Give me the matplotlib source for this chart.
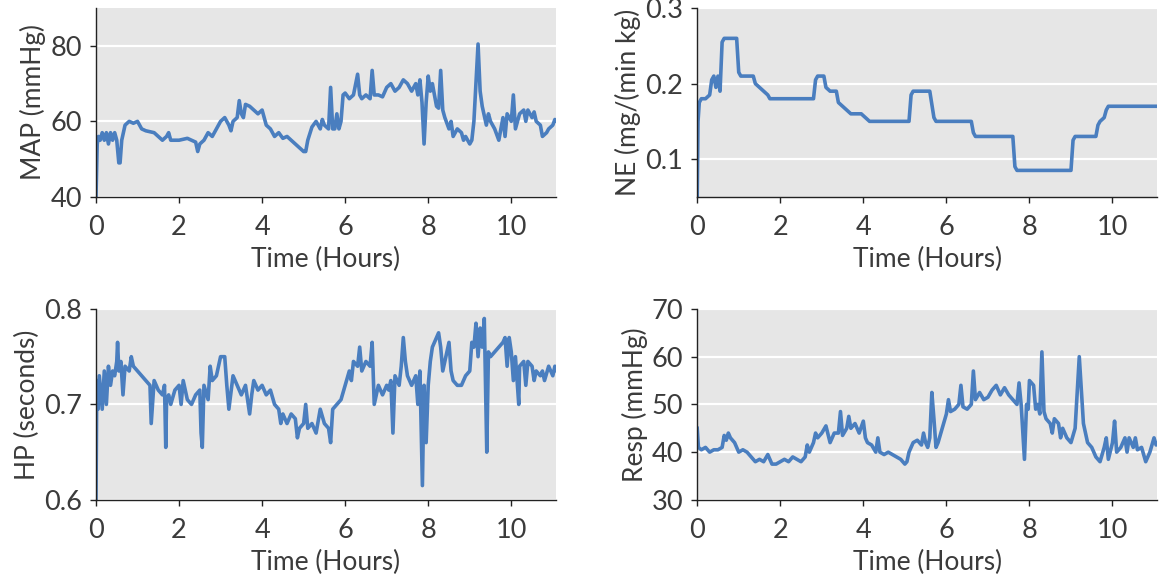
import matplotlib
matplotlib.use("Agg")
import matplotlib.pyplot as plt

# MAP (mmHg) vs time (hours)
map_t = [0.0, 0.03, 0.06, 0.1, 0.15, 0.2, 0.25, 0.3, 0.35, 0.4, 0.45, 0.5, 0.55, 0.58, 0.62, 0.7, 0.8,
         0.9, 1.0, 1.1, 1.2, 1.4, 1.5, 1.6, 1.7, 1.75, 1.8, 2.0, 2.2, 2.3, 2.4, 2.45, 2.5, 2.6, 2.7,
         2.8, 2.9, 3.0, 3.1, 3.2, 3.25, 3.3, 3.4, 3.45, 3.5, 3.55, 3.6, 3.7, 3.8, 3.9, 4.0, 4.05, 4.1,
         4.2, 4.3, 4.4, 4.5, 4.6, 4.7, 4.8, 4.9, 5.0, 5.05, 5.1, 5.2, 5.3, 5.4, 5.45, 5.5, 5.6, 5.65,
         5.7, 5.75, 5.8, 5.85, 5.9, 5.95, 6.0, 6.1, 6.2, 6.3, 6.35, 6.4, 6.5, 6.6, 6.65, 6.7, 6.8,
         6.9, 7.0, 7.1, 7.2, 7.3, 7.4, 7.5, 7.6, 7.7, 7.75, 7.8, 7.85, 7.9, 7.95, 8.0, 8.05, 8.1,
         8.2, 8.25, 8.3, 8.35, 8.4, 8.5, 8.55, 8.6, 8.7, 8.8, 8.85, 8.9, 9.0, 9.05, 9.1, 9.2, 9.25,
         9.3, 9.4, 9.45, 9.5, 9.6, 9.7, 9.75, 9.8, 9.85, 9.9, 10.0, 10.05, 10.1, 10.2, 10.3, 10.35,
         10.4, 10.5, 10.55, 10.6, 10.7, 10.75, 10.85, 10.9, 11.0, 11.05, 11.1]
map_v = [40, 54, 56, 55, 57, 55, 57, 54, 57, 55, 57, 55, 49, 49, 55, 59, 60,
         59.5, 60, 58, 57.5, 57, 56, 55, 56, 57, 55, 55, 55.5, 55, 54.5, 52, 54, 55, 57,
         56, 58, 60, 61, 59, 57.5, 60, 61, 65.5, 62, 61, 64.5, 64, 63, 62, 63, 61, 59,
         58, 56, 57, 55.5, 56, 55, 54, 53, 52, 52, 55, 58.5, 60, 58, 60.5, 59, 58, 69,
         58, 58, 62, 58, 60, 67, 67.5, 66, 67, 72.5, 67, 66, 67, 66, 73.5, 67, 67,
         66.5, 69, 70, 68, 69, 71, 70, 68, 70, 67, 71, 65, 54, 65, 72, 68, 70,
         64, 63.5, 73.5, 63, 61, 58, 60, 56, 58, 57, 55, 56, 54, 55, 60, 80.5, 68,
         64, 59, 62, 60, 58, 55, 58, 61, 56, 62, 60, 67, 58, 62, 63, 60,
         63, 61, 62.5, 60, 59, 56, 57, 58, 59, 60.5, 60]

# NE dose (mg/(min kg))
ne_t = [0.0, 0.02, 0.05, 0.1, 0.2, 0.3, 0.35, 0.4, 0.45, 0.5, 0.55, 0.6, 0.65, 0.95, 1.0, 1.05,
        1.35, 1.4, 1.5, 1.6, 1.7, 1.75, 2.8, 2.85, 2.9, 3.05, 3.1, 3.2, 3.35, 3.4, 3.5, 3.6, 3.7,
        3.95, 4.05, 4.15, 5.1, 5.15, 5.2, 5.6, 5.7, 5.75, 6.6, 6.65, 6.7, 7.6, 7.65, 7.7, 9.0,
        9.05, 9.1, 9.6, 9.65, 9.7, 9.8, 9.85, 9.9, 11.1]
ne_v = [0.05, 0.15, 0.175, 0.18, 0.18, 0.185, 0.205, 0.21, 0.195, 0.21, 0.19, 0.255, 0.26, 0.26, 0.215, 0.21,
        0.21, 0.2, 0.195, 0.19, 0.185, 0.18, 0.18, 0.205, 0.21, 0.21, 0.195, 0.19, 0.19, 0.175, 0.17, 0.165, 0.16,
        0.16, 0.155, 0.15, 0.15, 0.185, 0.19, 0.19, 0.155, 0.15, 0.15, 0.135, 0.13, 0.13, 0.09, 0.085, 0.085,
        0.125, 0.13, 0.13, 0.145, 0.15, 0.155, 0.165, 0.17, 0.17]

# HP (seconds)
hp_t = [0.0, 0.02, 0.05, 0.08, 0.1, 0.15, 0.2, 0.25, 0.3, 0.35, 0.4, 0.45, 0.5, 0.52, 0.55, 0.6, 0.65,
        0.7, 0.8, 0.85, 0.9, 1.0, 1.1, 1.2, 1.3, 1.33, 1.4, 1.5, 1.6, 1.65, 1.68, 1.7, 1.75, 1.8, 1.9,
        2.0, 2.05, 2.1, 2.2, 2.3, 2.4, 2.5, 2.53, 2.56, 2.6, 2.7, 2.75, 2.8, 2.9, 3.0, 3.1, 3.15, 3.2,
        3.3, 3.4, 3.5, 3.6, 3.7, 3.75, 3.8, 3.9, 4.0, 4.1, 4.2, 4.3, 4.4, 4.45, 4.5, 4.6, 4.7, 4.8,
        4.85, 4.9, 5.0, 5.05, 5.1, 5.2, 5.3, 5.4, 5.5, 5.6, 5.65, 5.7, 5.8, 5.9, 6.0, 6.1, 6.15, 6.2,
        6.3, 6.35, 6.4, 6.5, 6.6, 6.65, 6.7, 6.8, 6.9, 7.0, 7.05, 7.1, 7.15, 7.2, 7.3, 7.35, 7.4,
        7.45, 7.5, 7.6, 7.7, 7.75, 7.8, 7.86, 7.9, 7.95, 8.0, 8.05, 8.1, 8.2, 8.25, 8.3, 8.35, 8.4,
        8.5, 8.55, 8.6, 8.7, 8.8, 8.9, 9.0, 9.05, 9.1, 9.15, 9.2, 9.25, 9.3, 9.35, 9.41, 9.45, 9.5,
        9.6, 9.7, 9.8, 9.85, 9.9, 9.95, 10.0, 10.05, 10.1, 10.18, 10.2, 10.3, 10.35, 10.4, 10.5,
        10.55, 10.6, 10.7, 10.75, 10.8, 10.9, 11.0, 11.05, 11.1]
hp_v = [0.6, 0.725, 0.695, 0.73, 0.72, 0.695, 0.735, 0.70, 0.74, 0.72, 0.735, 0.73, 0.745, 0.765, 0.735, 0.745, 0.71,
        0.74, 0.735, 0.75, 0.74, 0.735, 0.73, 0.725, 0.72, 0.68, 0.725, 0.715, 0.71, 0.72, 0.655, 0.705, 0.71, 0.70, 0.715,
        0.72, 0.70, 0.725, 0.705, 0.70, 0.71, 0.715, 0.67, 0.655, 0.72, 0.705, 0.74, 0.725, 0.73, 0.75, 0.75, 0.72, 0.695,
        0.73, 0.72, 0.71, 0.72, 0.69, 0.71, 0.725, 0.715, 0.72, 0.71, 0.715, 0.70, 0.695, 0.68, 0.69, 0.68, 0.69, 0.685,
        0.665, 0.675, 0.68, 0.70, 0.675, 0.68, 0.67, 0.695, 0.68, 0.675, 0.66, 0.695, 0.70, 0.705, 0.72, 0.735, 0.725, 0.745,
        0.74, 0.76, 0.735, 0.745, 0.74, 0.765, 0.70, 0.72, 0.71, 0.72, 0.715, 0.725, 0.67, 0.73, 0.72, 0.74, 0.77,
        0.745, 0.73, 0.72, 0.73, 0.70, 0.735, 0.615, 0.72, 0.66, 0.72, 0.745, 0.76, 0.77, 0.775, 0.76, 0.735, 0.745,
        0.765, 0.735, 0.725, 0.72, 0.72, 0.73, 0.735, 0.765, 0.76, 0.785, 0.75, 0.78, 0.76, 0.79, 0.65, 0.755, 0.75,
        0.755, 0.76, 0.765, 0.77, 0.74, 0.77, 0.755, 0.725, 0.75, 0.70, 0.74, 0.745, 0.72, 0.745, 0.74,
        0.725, 0.735, 0.73, 0.735, 0.725, 0.74, 0.73, 0.74, 0.735]

# Resp (mmHg)
resp_t = [0.0, 0.03, 0.1, 0.2, 0.3, 0.4, 0.5, 0.6, 0.65, 0.7, 0.75, 0.8, 0.9, 1.0, 1.1, 1.2, 1.3, 1.4,
          1.5, 1.6, 1.7, 1.8, 1.9, 2.0, 2.1, 2.2, 2.3, 2.4, 2.5, 2.6, 2.65, 2.7, 2.8, 2.85, 2.9, 3.0,
          3.1, 3.2, 3.3, 3.4, 3.45, 3.5, 3.6, 3.65, 3.7, 3.8, 3.9, 4.0, 4.05, 4.1, 4.2, 4.3, 4.35, 4.4,
          4.5, 4.6, 4.7, 4.8, 4.9, 5.0, 5.05, 5.1, 5.2, 5.3, 5.4, 5.45, 5.5, 5.55, 5.6, 5.65, 5.7, 5.75,
          5.8, 5.9, 6.0, 6.05, 6.1, 6.2, 6.3, 6.35, 6.4, 6.5, 6.6, 6.65, 6.7, 6.8, 6.9, 7.0, 7.1, 7.2,
          7.3, 7.4, 7.5, 7.6, 7.7, 7.75, 7.8, 7.88, 7.93, 7.97, 8.0, 8.1, 8.15, 8.2, 8.25, 8.3, 8.35,
          8.4, 8.5, 8.55, 8.6, 8.7, 8.75, 8.8, 8.9, 9.0, 9.1, 9.2, 9.3, 9.4, 9.5, 9.6, 9.7, 9.8, 9.85,
          9.9, 10.0, 10.05, 10.1, 10.2, 10.3, 10.35, 10.4, 10.5, 10.55, 10.6, 10.7, 10.8, 10.9, 11.0,
          11.05, 11.1]
resp_v = [45, 41, 40.5, 41, 40, 40.5, 40.5, 41, 43.5, 42.5, 44, 43, 42, 40, 40.5, 40, 39, 38,
          38.5, 38, 39.5, 37.5, 37.5, 38, 38.5, 38, 39, 38.5, 38, 39, 41.5, 40, 42, 44, 43, 44,
          45.5, 42, 44, 44, 48.5, 43.5, 45, 47.5, 45, 46, 44, 46.5, 43, 42, 41.5, 40, 43, 40,
          39.5, 40, 39.5, 39, 38.5, 37.5, 38, 40, 42, 42.5, 41.5, 44, 42, 41, 43, 52.5, 47, 41,
          42, 45, 48, 51, 48.5, 49, 50, 54, 49.5, 49, 50, 57, 51, 52.5, 51, 51.5, 53, 54,
          52, 53.5, 52, 51, 50, 54.5, 50, 38.5, 50, 49, 55, 54, 49, 50, 48, 61, 48.5,
          47, 46, 44, 47, 46, 43, 45, 43, 42, 45, 60, 46, 42, 41, 39, 38, 41, 43,
          38.5, 42, 46.5, 40, 41, 43, 40, 43, 41, 43, 40.5, 41, 38, 40, 43,
          41.5, 42]

panels = [
    (map_t, map_v, "MAP (mmHg)", (40, 90), [40, 60, 80], ["40", "60", "80"]),
    (ne_t, ne_v, "NE (mg/(min kg)", (0.05, 0.3), [0.1, 0.2, 0.3], ["0.1", "0.2", "0.3"]),
    (hp_t, hp_v, "HP (seconds)", (0.6, 0.8), [0.6, 0.7, 0.8], ["0.6", "0.7", "0.8"]),
    (resp_t, resp_v, "Resp (mmHg)", (30, 70), [30, 40, 50, 60, 70], ["30", "40", "50", "60", "70"]),
]

rects = [
    [0.0826, 0.663, 0.396, 0.323],
    [0.600, 0.663, 0.396, 0.323],
    [0.0826, 0.144, 0.396, 0.327],
    [0.600, 0.144, 0.396, 0.327],
]

LINE = "#4a7ebf"
TXT = "#3b3b3b"
plt.rcParams["font.family"] = ["Lato", "DejaVu Sans"]

fig = plt.figure(figsize=(11.62, 5.84), dpi=100)
for (t, v, ylab, ylim, yt, ytl), r in zip(panels, rects):
    ax = fig.add_axes(r)
    ax.set_facecolor("#e6e6e6")
    ax.plot(t, v, color=LINE, lw=2.6, solid_joinstyle="round")
    ax.set_xlim(0, 11.08)
    ax.set_ylim(*ylim)
    ax.set_xticks([0, 2, 4, 6, 8, 10])
    ax.set_yticks(yt)
    ax.set_yticklabels(ytl)
    ax.grid(axis="y", color="white", lw=1.6)
    ax.set_axisbelow(True)
    for s in ["top", "right"]:
        ax.spines[s].set_visible(False)
    for s in ["left", "bottom"]:
        ax.spines[s].set_color("#222222")
        ax.spines[s].set_linewidth(1.0)
    ax.tick_params(axis="both", direction="out", length=4, width=1, colors="#222222",
                   labelsize=19.5, labelcolor=TXT)
    ax.tick_params(axis="x", pad=9)
    ax.tick_params(axis="y", pad=6)
    ax.set_xlabel("Time (Hours)", fontsize=19, color=TXT, labelpad=5)
    ax.set_ylabel(ylab, fontsize=19, color=TXT, labelpad=3)

fig.savefig("out.png", dpi=100, facecolor="white")
